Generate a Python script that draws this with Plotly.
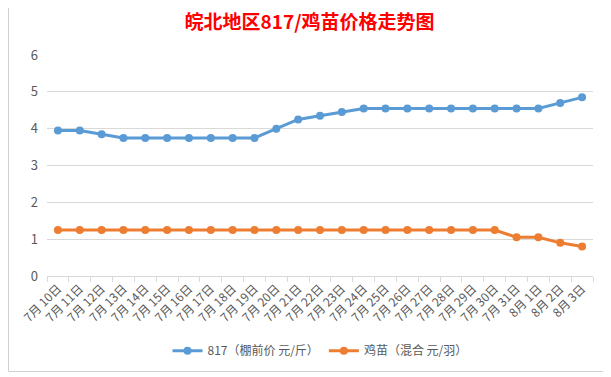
import plotly.graph_objects as go

dates = ["7月 10日", "7月 11日", "7月 12日", "7月 13日", "7月 14日", "7月 15日", "7月 16日",
         "7月 17日", "7月 18日", "7月 19日", "7月 20日", "7月 21日", "7月 22日", "7月 23日",
         "7月 24日", "7月 25日", "7月 26日", "7月 27日", "7月 28日", "7月 29日", "7月 30日",
         "7月 31日", "8月 1日", "8月 2日", "8月 3日"]
price_817 = [3.95, 3.95, 3.85, 3.75, 3.75, 3.75, 3.75, 3.75, 3.75, 3.75, 4.0, 4.25, 4.35,
             4.45, 4.55, 4.55, 4.55, 4.55, 4.55, 4.55, 4.55, 4.55, 4.55, 4.7, 4.85]
price_chick = [1.25, 1.25, 1.25, 1.25, 1.25, 1.25, 1.25, 1.25, 1.25, 1.25, 1.25, 1.25, 1.25,
               1.25, 1.25, 1.25, 1.25, 1.25, 1.25, 1.25, 1.25, 1.05, 1.05, 0.9, 0.8]
y_ticks = [0, 1, 2, 3, 4, 5, 6]

FONT = "Noto Sans CJK SC"
fig = go.Figure()
fig.add_trace(go.Scatter(x=dates, y=price_817, mode="lines+markers", name="817（棚前价 元/斤）",
                         line=dict(color="#5B9BD5", width=3), marker=dict(size=8, color="#5B9BD5")))
fig.add_trace(go.Scatter(x=dates, y=price_chick, mode="lines+markers", name="鸡苗（混合 元/羽）",
                         line=dict(color="#ED7D31", width=3), marker=dict(size=8, color="#ED7D31")))

# page body has an 8px default margin, so the figure is 8px smaller and shifted
fig.update_layout(
    width=603, height=369,
    margin=dict(l=39, r=18, t=47, b=98),
    paper_bgcolor="white", plot_bgcolor="white",
    font=dict(family=FONT, color="#595959", size=11),
    title=dict(text="<b>皖北地区817/鸡苗价格走势图</b>", x=0.5, xanchor="center", y=0.962, yanchor="middle",
               font=dict(family=FONT, size=19, color="#FF0000")),
    legend=dict(orientation="h", x=0.5, xanchor="center", y=-0.338, yanchor="middle",
                font=dict(family=FONT, size=12, color="#595959")),
    showlegend=True,
)
fig.update_xaxes(type="category", range=[-0.5, len(dates) - 0.5], tickangle=-45, automargin=False,
                 showgrid=False, showline=True, linecolor="#d9d9d9", linewidth=1,
                 ticks="outside", tickson="boundaries", ticklen=5, tickcolor="#d9d9d9",
                 tickfont=dict(size=12, color="#595959"))
fig.update_yaxes(range=[0, 6], tickvals=y_ticks, showgrid=True, gridcolor="#d9d9d9", gridwidth=1,
                 zeroline=False, showline=False, ticks="", ticklabelstandoff=8, automargin=False,
                 tickfont=dict(size=13, color="#595959"))

# outer chart frame (left, right, bottom)
frame = dict(color="#d0d0d0", width=1)
fig.add_shape(type="line", xref="paper", yref="paper", x0=-0.0705, x1=-0.0705, y0=-0.432, y1=1.22, line=frame)
fig.add_shape(type="line", xref="paper", yref="paper", x0=1.0256, x1=1.0256, y0=-0.432, y1=1.22, line=frame)
fig.add_shape(type="line", xref="paper", yref="paper", x0=-0.0705, x1=1.0256, y0=-0.432, y1=-0.432, line=frame)

fig.write_html("out.html")
